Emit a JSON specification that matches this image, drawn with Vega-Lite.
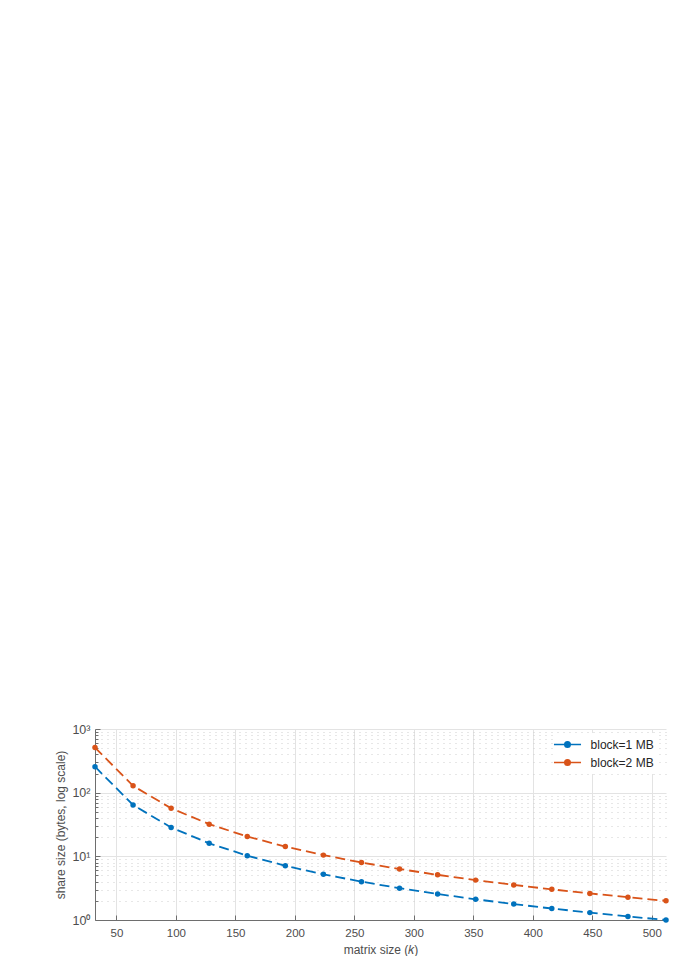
{
  "$schema": "https://vega.github.io/schema/vega-lite/v6.json",
  "width": 571,
  "height": 191,
  "autosize": {"type": "none"},
  "padding": {"left": 95, "top": 729, "right": 10, "bottom": 36},
  "background": "white",
  "config": {
    "font": "Liberation Sans",
    "view": {"stroke": null},
    "axis": {
      "labelFont": "Liberation Sans",
      "titleFont": "Liberation Sans",
      "labelColor": "#4d4d4d",
      "titleColor": "#4d4d4d",
      "labelFontSize": 11.5,
      "titleFontSize": 12,
      "titleFontWeight": "normal",
      "domainColor": "#6e6e6e",
      "tickColor": "#6e6e6e"
    }
  },
  "data": {
    "values": [
      {"k": 32, "size": 256, "block": "block=1 MB"},
      {"k": 64, "size": 64, "block": "block=1 MB"},
      {"k": 96, "size": 28.44, "block": "block=1 MB"},
      {"k": 128, "size": 16, "block": "block=1 MB"},
      {"k": 160, "size": 10.24, "block": "block=1 MB"},
      {"k": 192, "size": 7.111, "block": "block=1 MB"},
      {"k": 224, "size": 5.224, "block": "block=1 MB"},
      {"k": 256, "size": 4, "block": "block=1 MB"},
      {"k": 288, "size": 3.160, "block": "block=1 MB"},
      {"k": 320, "size": 2.56, "block": "block=1 MB"},
      {"k": 352, "size": 2.116, "block": "block=1 MB"},
      {"k": 384, "size": 1.778, "block": "block=1 MB"},
      {"k": 416, "size": 1.515, "block": "block=1 MB"},
      {"k": 448, "size": 1.306, "block": "block=1 MB"},
      {"k": 480, "size": 1.138, "block": "block=1 MB"},
      {"k": 512, "size": 1, "block": "block=1 MB"},
      {"k": 32, "size": 512, "block": "block=2 MB"},
      {"k": 64, "size": 128, "block": "block=2 MB"},
      {"k": 96, "size": 56.89, "block": "block=2 MB"},
      {"k": 128, "size": 32, "block": "block=2 MB"},
      {"k": 160, "size": 20.48, "block": "block=2 MB"},
      {"k": 192, "size": 14.22, "block": "block=2 MB"},
      {"k": 224, "size": 10.45, "block": "block=2 MB"},
      {"k": 256, "size": 8, "block": "block=2 MB"},
      {"k": 288, "size": 6.321, "block": "block=2 MB"},
      {"k": 320, "size": 5.12, "block": "block=2 MB"},
      {"k": 352, "size": 4.231, "block": "block=2 MB"},
      {"k": 384, "size": 3.556, "block": "block=2 MB"},
      {"k": 416, "size": 3.030, "block": "block=2 MB"},
      {"k": 448, "size": 2.612, "block": "block=2 MB"},
      {"k": 480, "size": 2.276, "block": "block=2 MB"},
      {"k": 512, "size": 2, "block": "block=2 MB"}
    ]
  },
  "encoding": {
    "x": {
      "field": "k",
      "type": "quantitative",
      "scale": {"domain": [32, 512], "nice": false, "zero": false},
      "axis": {
        "title": "matrix size (𝑘)",
        "values": [50, 100, 150, 200, 250, 300, 350, 400, 450, 500],
        "grid": true,
        "gridColor": "#e3e3e3",
        "tickSize": -5,
        "labelPadding": 12,
        "titlePadding": 6
      }
    },
    "y": {
      "field": "size",
      "type": "quantitative",
      "scale": {"type": "log", "domain": [1, 1000], "nice": false},
      "axis": {
        "title": "share size (bytes, log scale)",
        "values": [1, 2, 3, 4, 5, 6, 7, 8, 9, 10, 20, 30, 40, 50, 60, 70, 80, 90, 100, 200, 300, 400, 500, 600, 700, 800, 900, 1000],
        "grid": true,
        "gridColor": {"condition": {"test": "datum.value===1||datum.value===10||datum.value===100||datum.value===1000", "value": "#e3e3e3"}, "value": "#cfcfcf"},
        "gridDash": {"condition": {"test": "datum.value===1||datum.value===10||datum.value===100||datum.value===1000", "value": []}, "value": [1, 5]},
        "tickSize": {"condition": {"test": "datum.value===1||datum.value===10||datum.value===100||datum.value===1000", "value": -5}, "value": -3},
        "labelExpr": "datum.value===1?'10⁰':datum.value===10?'10¹':datum.value===100?'10²':datum.value===1000?'10³':''",
        "labelFontSize": 12.5,
        "labelPadding": 10,
        "titlePadding": 4
      }
    },
    "color": {
      "field": "block",
      "type": "nominal",
      "scale": {"domain": ["block=1 MB", "block=2 MB"], "range": ["#0072BD", "#D95319"]},
      "legend": {
        "title": null,
        "orient": "none",
        "legendX": 461,
        "legendY": 4,
        "fillColor": "white",
        "padding": 5,
        "labelFont": "Liberation Sans",
        "labelFontSize": 12,
        "labelColor": "#262626",
        "symbolType": "M -2.5 0 L 2.5 0 M 0.5 0 A 0.5 0.5 0 1 1 -0.5 0 A 0.5 0.5 0 1 1 0.5 0 Z",
        "symbolSize": 117,
        "symbolStrokeWidth": 1.6,
        "labelOffset": 16.6,
        "rowPadding": 5
      }
    }
  },
  "layer": [
    {
      "mark": {"type": "line", "strokeWidth": 1.8, "strokeDash": [10, 5], "clip": false}
    },
    {
      "mark": {"type": "point", "filled": true, "opacity": 1, "size": 30, "shape": "circle", "clip": false}
    }
  ]
}
